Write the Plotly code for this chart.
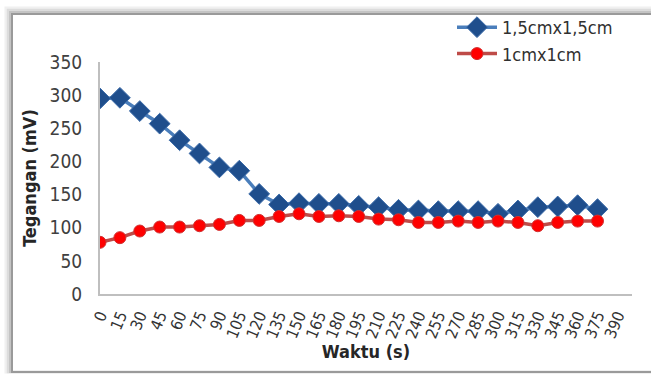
import plotly.graph_objects as go

time_s = [0, 15, 30, 45, 60, 75, 90, 105, 120, 135, 150, 165, 180, 195, 210,
          225, 240, 255, 270, 285, 300, 315, 330, 345, 360, 375]
series_15 = [295, 296, 276, 257, 232, 212, 191, 186, 151, 135, 137, 136, 136, 133, 131,
             127, 126, 125, 125, 125, 121, 126, 131, 132, 134, 128]
series_1 = [78, 85, 95, 101, 101, 103, 105, 111, 111, 117, 121, 117, 118, 117, 113,
            112, 108, 108, 110, 108, 110, 108, 103, 108, 110, 110]
x_ticks = list(range(0, 391, 15))
y_ticks = [0, 50, 100, 150, 200, 250, 300, 350]

FONT = "Liberation Sans Narrow, DejaVu Sans Condensed, Liberation Sans, sans-serif"

fig = go.Figure()
fig.add_trace(go.Scatter(
    x=time_s, y=series_15, name="1,5cmx1,5cm", mode="lines+markers",
    line=dict(color="#4a7ebb", width=3.5),
    marker=dict(symbol="diamond", size=16, color="#1f4e8c",
                line=dict(color="#3a6aa8", width=1)),
))
fig.add_trace(go.Scatter(
    x=time_s, y=series_1, name="1cmx1cm", mode="lines+markers",
    line=dict(color="#be4b48", width=3.5),
    marker=dict(symbol="circle", size=12, color="#ff0000",
                line=dict(color="#d03030", width=1)),
))

W, H = 651, 375
L, T = 100, 62
R = W - 632
B = H - 294
pw, ph = W - L - R, H - T - B


def xp(px):
    return (px - L) / pw


def yp(py):
    return (T + ph - py) / ph


shapes = []
for off, col, w in [(6, "#f0f0f0", 3), (4, "#dcdcdc", 2.5), (2, "#c4c4c4", 2), (0, "#9a9a9a", 2)]:
    shapes.append(dict(type="rect", xref="paper", yref="paper",
                       x0=xp(12 - off), x1=xp(700), y0=yp(372), y1=yp(14 - off),
                       line=dict(color=col, width=w), fillcolor="rgba(0,0,0,0)",
                       layer="below"))

fig.update_layout(
    width=W, height=H,
    margin=dict(l=L, r=R, t=T, b=B, autoexpand=False),
    paper_bgcolor="white", plot_bgcolor="white",
    font=dict(family=FONT, size=16, color="#404040"),
    showlegend=True,
    legend=dict(x=xp(452), y=yp(9), xanchor="left", yanchor="top",
                bgcolor="rgba(0,0,0,0)", font=dict(size=18, color="#303030"),
                itemwidth=40, tracegroupgap=0),
    shapes=shapes,
    xaxis=dict(range=[0, 401], tickmode="array", tickvals=x_ticks,
               ticktext=[str(v) for v in x_ticks], tickangle=-68,
               showgrid=False, zeroline=False, showline=True, automargin=False,
               linecolor="#bfbfbf", linewidth=2, ticks="", ticklabelstandoff=4,
               tickfont=dict(size=16, color="#333333"),
               title=dict(text="<b>Waktu (s)</b>", font=dict(size=18, color="#262626"),
                          standoff=4)),
    yaxis=dict(range=[0, 350], tickmode="array", tickvals=y_ticks,
               showgrid=False, zeroline=False, showline=True, automargin=False,
               linecolor="#bfbfbf", linewidth=2, ticks="", ticklabelstandoff=12,
               tickfont=dict(size=19, color="#404040"),
               title=dict(text="<b>Tegangan (mV)</b>", font=dict(size=18, color="#262626"),
                          standoff=8)),
)

fig.write_html(
    "out.html",
    config={"displayModeBar": False},
    post_script="document.body.style.margin='0';document.body.style.overflow='hidden';",
)
